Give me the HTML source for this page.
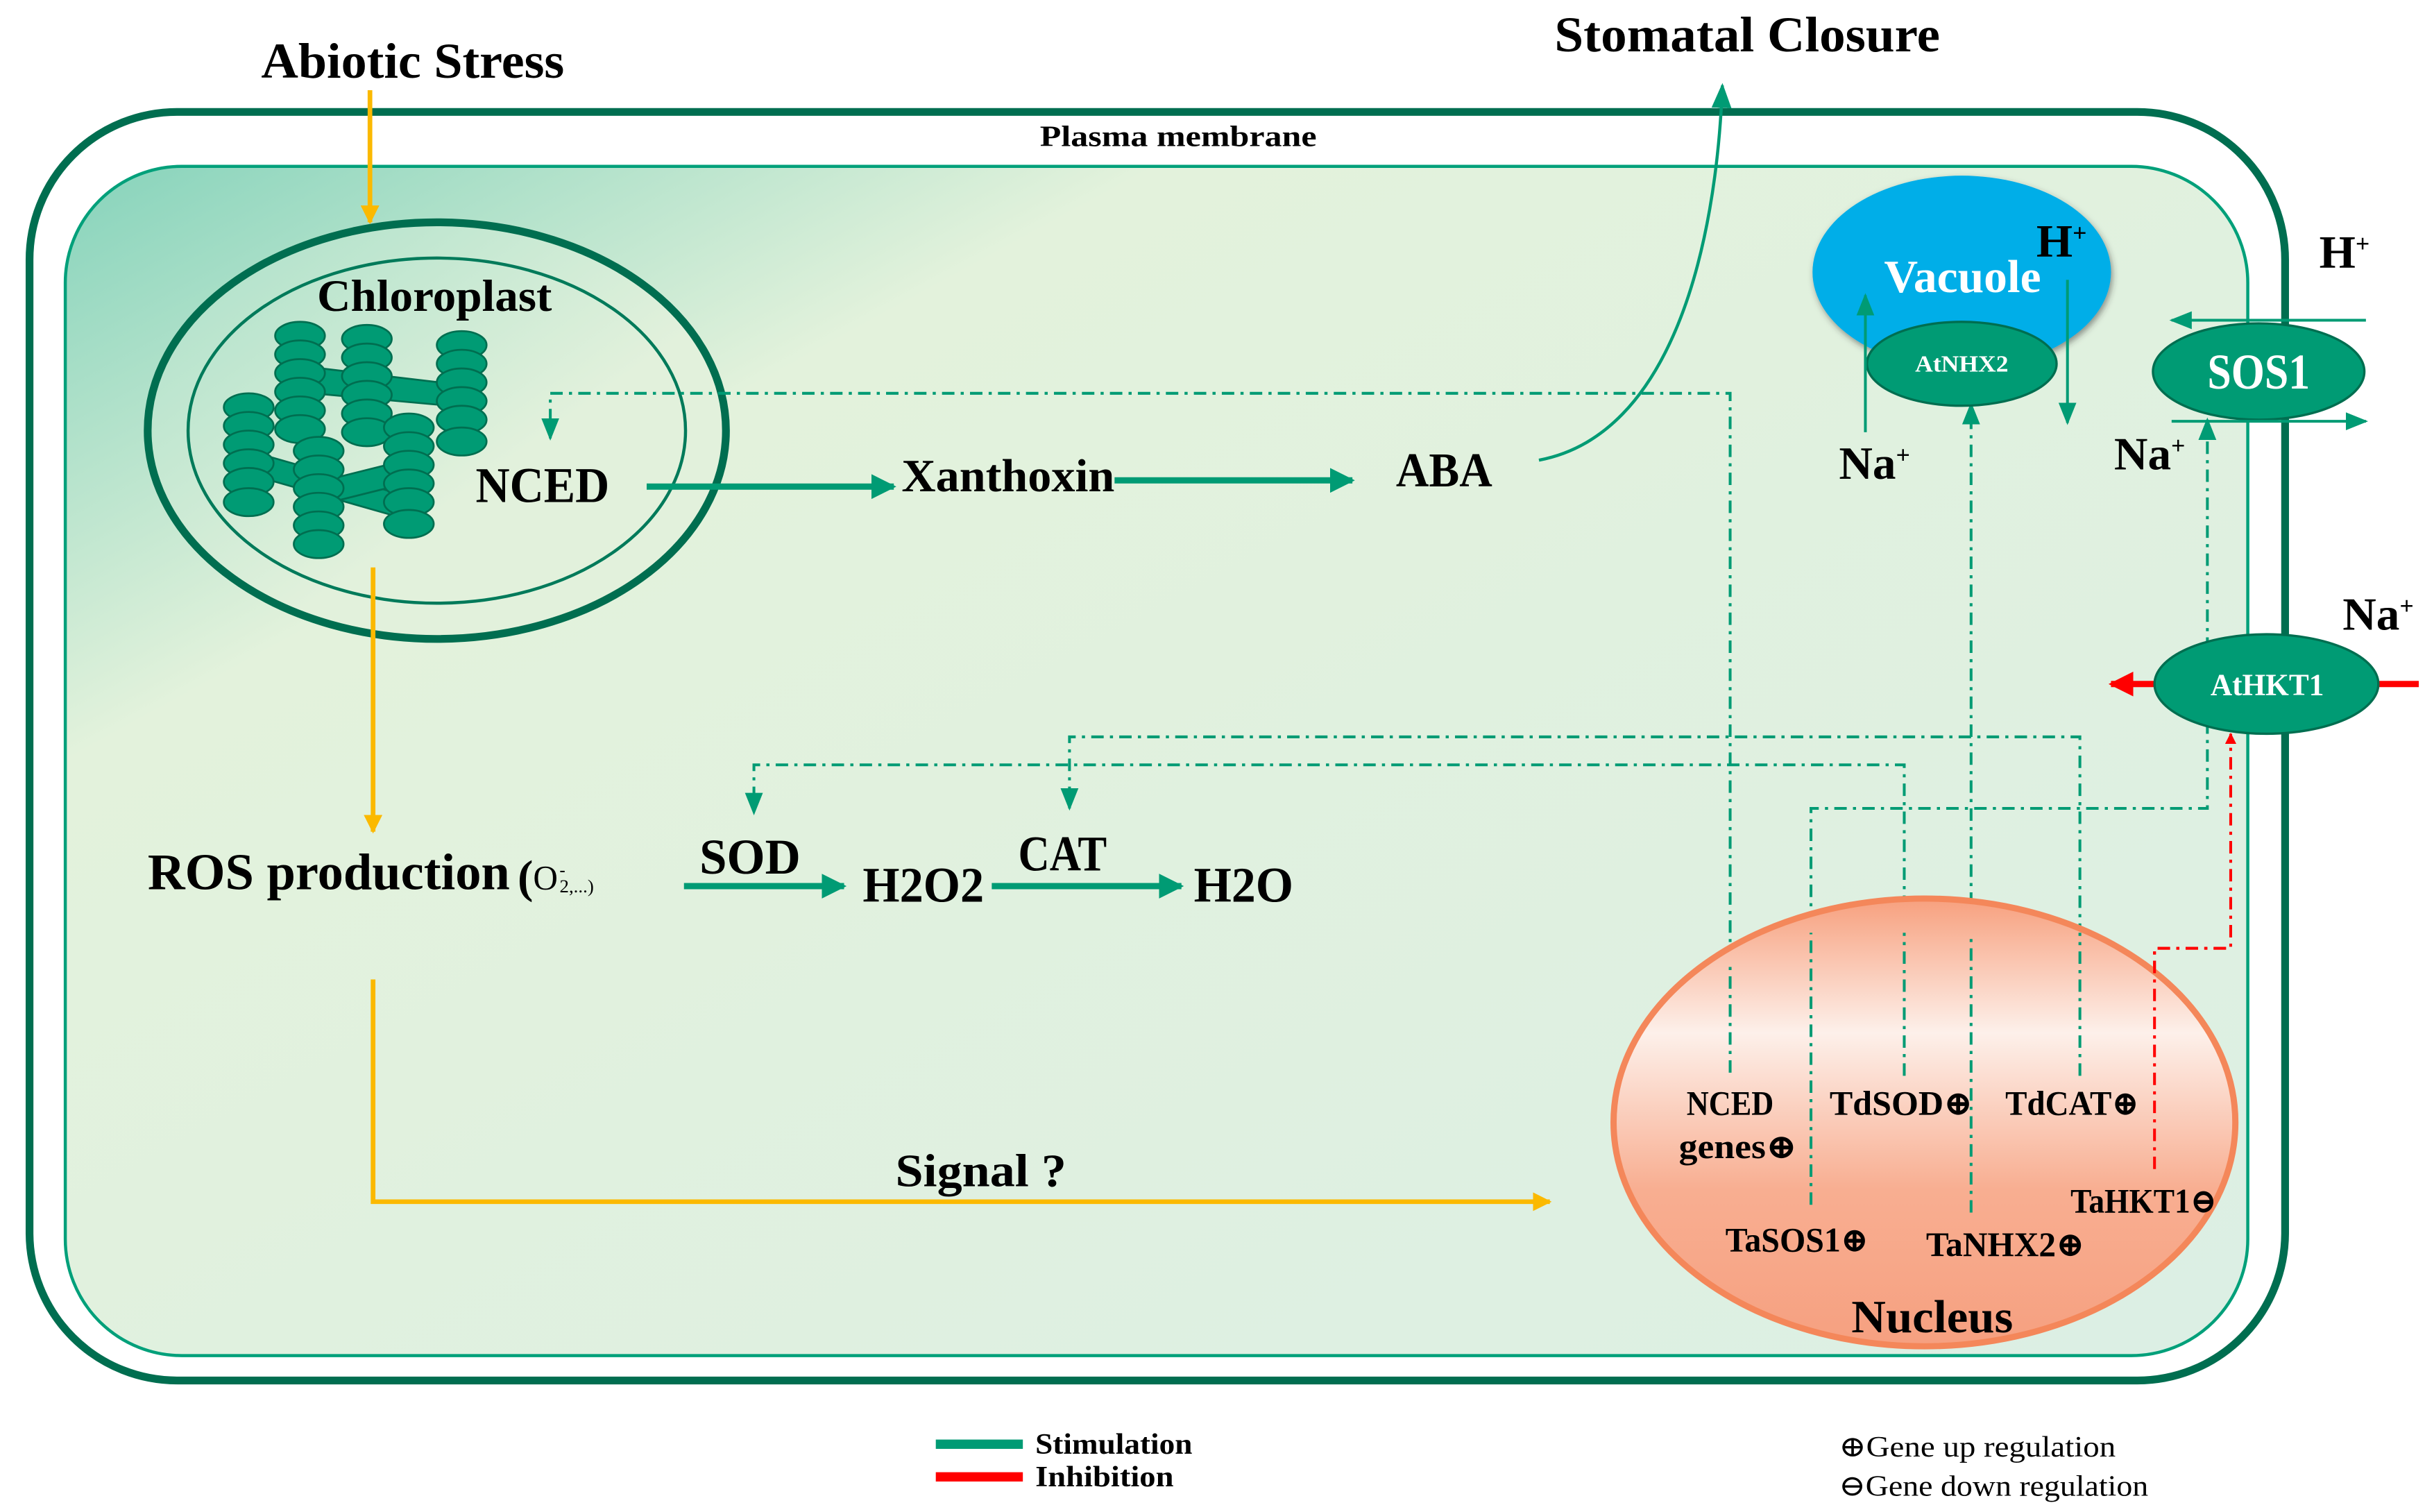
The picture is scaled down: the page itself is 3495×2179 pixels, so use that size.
<!DOCTYPE html>
<html><head><meta charset="utf-8"><style>
html,body{margin:0;padding:0;background:#fff;}
svg{display:block;}
text{font-family:"Liberation Serif","DejaVu Serif",serif;font-weight:bold;fill:#000;}
.w{fill:#fff;}
</style></head><body>
<svg width="3495" height="2179" viewBox="0 0 1560 972.6" preserveAspectRatio="none" xmlns="http://www.w3.org/2000/svg">
<defs>
<linearGradient id="cyto" x1="0" y1="0" x2="1" y2="1">
<stop offset="0" stop-color="#86d3bb"/><stop offset="0.25" stop-color="#e3f2dc"/><stop offset="1" stop-color="#dcefe4"/>
</linearGradient>
<linearGradient id="nuc" x1="0" y1="0" x2="0" y2="1">
<stop offset="0" stop-color="#f7a07e"/><stop offset="0.3" stop-color="#fdf0ea"/><stop offset="0.65" stop-color="#f8ae91"/><stop offset="1" stop-color="#f6a080"/>
</linearGradient>
<linearGradient id="chl" x1="0" y1="0" x2="1" y2="1">
<stop offset="0" stop-color="#a8dfc8"/><stop offset="0.6" stop-color="#e2f1dc"/>
</linearGradient>
<marker id="ag" viewBox="0 0 10 10" refX="9" refY="5" markerWidth="4" markerHeight="4" orient="auto" markerUnits="strokeWidth"><path d="M0,0 L10,5 L0,10z" fill="#009b74"/></marker>
<marker id="ag2" viewBox="0 0 10 10" refX="9" refY="5" markerWidth="8" markerHeight="8" orient="auto" markerUnits="strokeWidth"><path d="M0,1 L10,5 L0,9z" fill="#009b74"/></marker>
<marker id="ay" viewBox="0 0 10 10" refX="9" refY="5" markerWidth="4" markerHeight="4" orient="auto" markerUnits="strokeWidth"><path d="M0,0 L10,5 L0,10z" fill="#fbb900"/></marker>
<marker id="ar" viewBox="0 0 10 10" refX="9" refY="5" markerWidth="4" markerHeight="4" orient="auto" markerUnits="strokeWidth"><path d="M0,0 L10,5 L0,10z" fill="#f00"/></marker>
<filter id="sh"><feDropShadow dx="1" dy="2" stdDeviation="2" flood-color="#333" flood-opacity="0.5"/></filter>
</defs>
<rect width="1560" height="972.6" fill="#fff"/>
<rect x="19" y="72" width="1451" height="816" rx="95" fill="#fff" stroke="#006e50" stroke-width="5"/>
<rect x="42" y="107" width="1404" height="765" rx="75" fill="url(#cyto)" stroke="#00a07a" stroke-width="2"/>
<text x="758" y="94" font-size="19" text-anchor="middle" textLength="178" lengthAdjust="spacingAndGlyphs">Plasma membrane</text>
<text x="168" y="50" font-size="32" textLength="195" lengthAdjust="spacingAndGlyphs">Abiotic Stress</text>
<text x="1000" y="33" font-size="32" textLength="248" lengthAdjust="spacingAndGlyphs">Stomatal Closure</text>
<line x1="238" y1="58" x2="238" y2="143" stroke="#fbb900" stroke-width="3" marker-end="url(#ay)"/>
<ellipse cx="281" cy="277" rx="186" ry="134" fill="url(#chl)" stroke="#006e50" stroke-width="5"/>
<ellipse cx="281" cy="277" rx="160" ry="111" fill="none" stroke="#007a5a" stroke-width="2"/>
<text x="204" y="200" font-size="29" textLength="151" lengthAdjust="spacingAndGlyphs">Chloroplast</text>
<g fill="#009b74" stroke="#006e50" stroke-width="1.2">
<path d="M190 235 L300 248 L300 262 L190 252z"/>
<path d="M160 290 L265 320 L265 335 L160 305z"/>
<path d="M205 310 L265 295 L265 310 L205 325z"/>
</g>
<g fill="#009b74" stroke="#006e50" stroke-width="1.2">
<ellipse cx="193" cy="216" rx="16" ry="9"/><ellipse cx="193" cy="228" rx="16" ry="9"/><ellipse cx="193" cy="240" rx="16" ry="9"/><ellipse cx="193" cy="252" rx="16" ry="9"/><ellipse cx="193" cy="264" rx="16" ry="9"/><ellipse cx="193" cy="276" rx="16" ry="9"/>
<ellipse cx="236" cy="218" rx="16" ry="9"/><ellipse cx="236" cy="230" rx="16" ry="9"/><ellipse cx="236" cy="242" rx="16" ry="9"/><ellipse cx="236" cy="254" rx="16" ry="9"/><ellipse cx="236" cy="266" rx="16" ry="9"/><ellipse cx="236" cy="278" rx="16" ry="9"/>
<ellipse cx="297" cy="222" rx="16" ry="9"/><ellipse cx="297" cy="234" rx="16" ry="9"/><ellipse cx="297" cy="246" rx="16" ry="9"/><ellipse cx="297" cy="258" rx="16" ry="9"/><ellipse cx="297" cy="270" rx="16" ry="9"/><ellipse cx="297" cy="284" rx="16" ry="9"/>
<ellipse cx="160" cy="262" rx="16" ry="9"/><ellipse cx="160" cy="274" rx="16" ry="9"/><ellipse cx="160" cy="286" rx="16" ry="9"/><ellipse cx="160" cy="298" rx="16" ry="9"/><ellipse cx="160" cy="310" rx="16" ry="9"/><ellipse cx="160" cy="323" rx="16" ry="9"/>
<ellipse cx="263" cy="275" rx="16" ry="9"/><ellipse cx="263" cy="287" rx="16" ry="9"/><ellipse cx="263" cy="299" rx="16" ry="9"/><ellipse cx="263" cy="311" rx="16" ry="9"/><ellipse cx="263" cy="323" rx="16" ry="9"/><ellipse cx="263" cy="337" rx="16" ry="9"/>
<ellipse cx="205" cy="290" rx="16" ry="9"/><ellipse cx="205" cy="302" rx="16" ry="9"/><ellipse cx="205" cy="314" rx="16" ry="9"/><ellipse cx="205" cy="326" rx="16" ry="9"/><ellipse cx="205" cy="338" rx="16" ry="9"/><ellipse cx="205" cy="350" rx="16" ry="9"/>
</g>
<text x="306" y="323" font-size="32" textLength="86" lengthAdjust="spacingAndGlyphs">NCED</text>
<line x1="416" y1="313" x2="575" y2="313" stroke="#009b74" stroke-width="4" marker-end="url(#ag)"/>
<text x="580" y="316" font-size="30" textLength="137" lengthAdjust="spacingAndGlyphs">Xanthoxin</text>
<line x1="717" y1="309" x2="870" y2="309" stroke="#009b74" stroke-width="4" marker-end="url(#ag)"/>
<text x="898" y="313" font-size="31" textLength="62" lengthAdjust="spacingAndGlyphs">ABA</text>
<path d="M990 296 C1075 280 1104 160 1108 55" fill="none" stroke="#009b74" stroke-width="2" marker-end="url(#ag2)"/>
<g fill="none" stroke="#009b74" stroke-width="1.8" stroke-dasharray="8 4 2 4">
<path d="M1113 690 V253 H354 V282" marker-end="url(#ag2)"/>
<path d="M1338 692 V474 H688 V520" marker-end="url(#ag2)"/>
<path d="M1225 692 V492 H485 V523" marker-end="url(#ag2)"/>
<path d="M1165 775 V520 H1420 V270" marker-end="url(#ag2)"/>
<path d="M1268 780 V260" marker-end="url(#ag2)"/>
</g>
<path d="M1386 752 V610 H1435 V472" fill="none" stroke="#f00" stroke-width="1.8" stroke-dasharray="8 4 2 4" marker-end="url(#ar)"/>
<line x1="240" y1="365" x2="240" y2="535" stroke="#fbb900" stroke-width="3" marker-end="url(#ay)"/>
<text x="95" y="572" font-size="33" textLength="233" lengthAdjust="spacingAndGlyphs">ROS production</text>
<text x="333" y="574" font-size="30" textLength="10" lengthAdjust="spacingAndGlyphs">(</text>
<text x="343" y="572" font-size="22" font-weight="normal" style="font-weight:normal">O</text>
<text x="360" y="563" font-size="11">-</text>
<text x="360" y="574" font-size="12" style="font-weight:normal">2,...)</text>
<line x1="440" y1="570" x2="543" y2="570" stroke="#009b74" stroke-width="4" marker-end="url(#ag)"/>
<text x="450" y="562" font-size="32" textLength="65" lengthAdjust="spacingAndGlyphs">SOD</text>
<text x="555" y="580" font-size="32" textLength="78" lengthAdjust="spacingAndGlyphs">H2O2</text>
<line x1="638" y1="570" x2="760" y2="570" stroke="#009b74" stroke-width="4" marker-end="url(#ag)"/>
<text x="655" y="560" font-size="32" textLength="57" lengthAdjust="spacingAndGlyphs">CAT</text>
<text x="768" y="580" font-size="32" textLength="64" lengthAdjust="spacingAndGlyphs">H2O</text>
<path d="M240 630 V773 H997" fill="none" stroke="#fbb900" stroke-width="3" marker-end="url(#ay)"/>
<text x="576" y="763" font-size="30" textLength="110" lengthAdjust="spacingAndGlyphs">Signal ?</text>
<ellipse cx="1262" cy="175" rx="96" ry="62" fill="#00aee8" filter="url(#sh)"/>
<text x="1212" y="188" font-size="30" class="w" textLength="101" lengthAdjust="spacingAndGlyphs">Vacuole</text>
<text x="1310" y="165" font-size="30">H<tspan font-size="16" dy="-10">+</tspan></text>
<ellipse cx="1262" cy="234" rx="61" ry="27" fill="#009b74" stroke="#006e50" stroke-width="1.5"/>
<text x="1232" y="239" font-size="15" class="w" textLength="60" lengthAdjust="spacingAndGlyphs">AtNHX2</text>
<line x1="1200" y1="278" x2="1200" y2="190" stroke="#009b74" stroke-width="1.8" marker-end="url(#ag2)"/>
<line x1="1330" y1="180" x2="1330" y2="272" stroke="#009b74" stroke-width="1.8" marker-end="url(#ag2)"/>
<text x="1183" y="308" font-size="30">Na<tspan font-size="16" dy="-10">+</tspan></text>
<line x1="1522" y1="206" x2="1397" y2="206" stroke="#009b74" stroke-width="1.8" marker-end="url(#ag2)"/>
<ellipse cx="1453" cy="239" rx="68" ry="31" fill="#009b74" stroke="#006e50" stroke-width="1.5"/>
<text x="1420" y="250" font-size="32" class="w" textLength="66" lengthAdjust="spacingAndGlyphs">SOS1</text>
<line x1="1397" y1="271" x2="1522" y2="271" stroke="#009b74" stroke-width="1.8" marker-end="url(#ag2)"/>
<text x="1492" y="172" font-size="30">H<tspan font-size="16" dy="-10">+</tspan></text>
<text x="1360" y="302" font-size="30">Na<tspan font-size="16" dy="-10">+</tspan></text>
<line x1="1386" y1="440" x2="1358" y2="440" stroke="#f00" stroke-width="4" marker-end="url(#ar)"/>
<line x1="1528" y1="440" x2="1556" y2="440" stroke="#f00" stroke-width="4"/>
<ellipse cx="1458" cy="440" rx="72" ry="32" fill="#009b74" stroke="#006e50" stroke-width="1.5"/>
<text x="1422" y="447" font-size="20" class="w" textLength="73" lengthAdjust="spacingAndGlyphs">AtHKT1</text>
<text x="1507" y="405" font-size="30">Na<tspan font-size="16" dy="-10">+</tspan></text>
<ellipse cx="1238" cy="722" rx="200" ry="144" fill="url(#nuc)" stroke="#f4875a" stroke-width="4"/>
<g fill="none" stroke="#009b74" stroke-width="1.8" stroke-dasharray="8 4 2 4">
<path d="M1113 690 V620"/><path d="M1165 775 V600"/><path d="M1225 692 V600"/><path d="M1268 780 V600"/><path d="M1338 692 V600"/>
</g>
<path d="M1386 752 V610 H1435" fill="none" stroke="#f00" stroke-width="1.8" stroke-dasharray="8 4 2 4"/>
<g font-size="22">
<text x="1085" y="717" textLength="56" lengthAdjust="spacingAndGlyphs">NCED</text>
<text x="1080" y="745" textLength="76" lengthAdjust="spacingAndGlyphs">genes⊕</text>
<text x="1177" y="717" textLength="92" lengthAdjust="spacingAndGlyphs">TdSOD⊕</text>
<text x="1290" y="717" textLength="86" lengthAdjust="spacingAndGlyphs">TdCAT⊕</text>
<text x="1110" y="805" textLength="92" lengthAdjust="spacingAndGlyphs">TaSOS1⊕</text>
<text x="1239" y="808" textLength="102" lengthAdjust="spacingAndGlyphs">TaNHX2⊕</text>
<text x="1332" y="780" textLength="94" lengthAdjust="spacingAndGlyphs">TaHKT1⊖</text>
</g>
<text x="1191" y="857" font-size="30" textLength="104" lengthAdjust="spacingAndGlyphs">Nucleus</text>
<rect x="602" y="926" width="56" height="6" fill="#009b74"/>
<text x="666" y="935" font-size="19" textLength="101" lengthAdjust="spacingAndGlyphs">Stimulation</text>
<rect x="602" y="947" width="56" height="6" fill="#f00"/>
<text x="666" y="956" font-size="19" textLength="89" lengthAdjust="spacingAndGlyphs">Inhibition</text>
<text x="1183" y="937" font-size="19" style="font-weight:normal" textLength="178" lengthAdjust="spacingAndGlyphs">⊕Gene up regulation</text>
<text x="1183" y="962" font-size="19" style="font-weight:normal" textLength="199" lengthAdjust="spacingAndGlyphs">⊖Gene down regulation</text>
</svg>
</body></html>
